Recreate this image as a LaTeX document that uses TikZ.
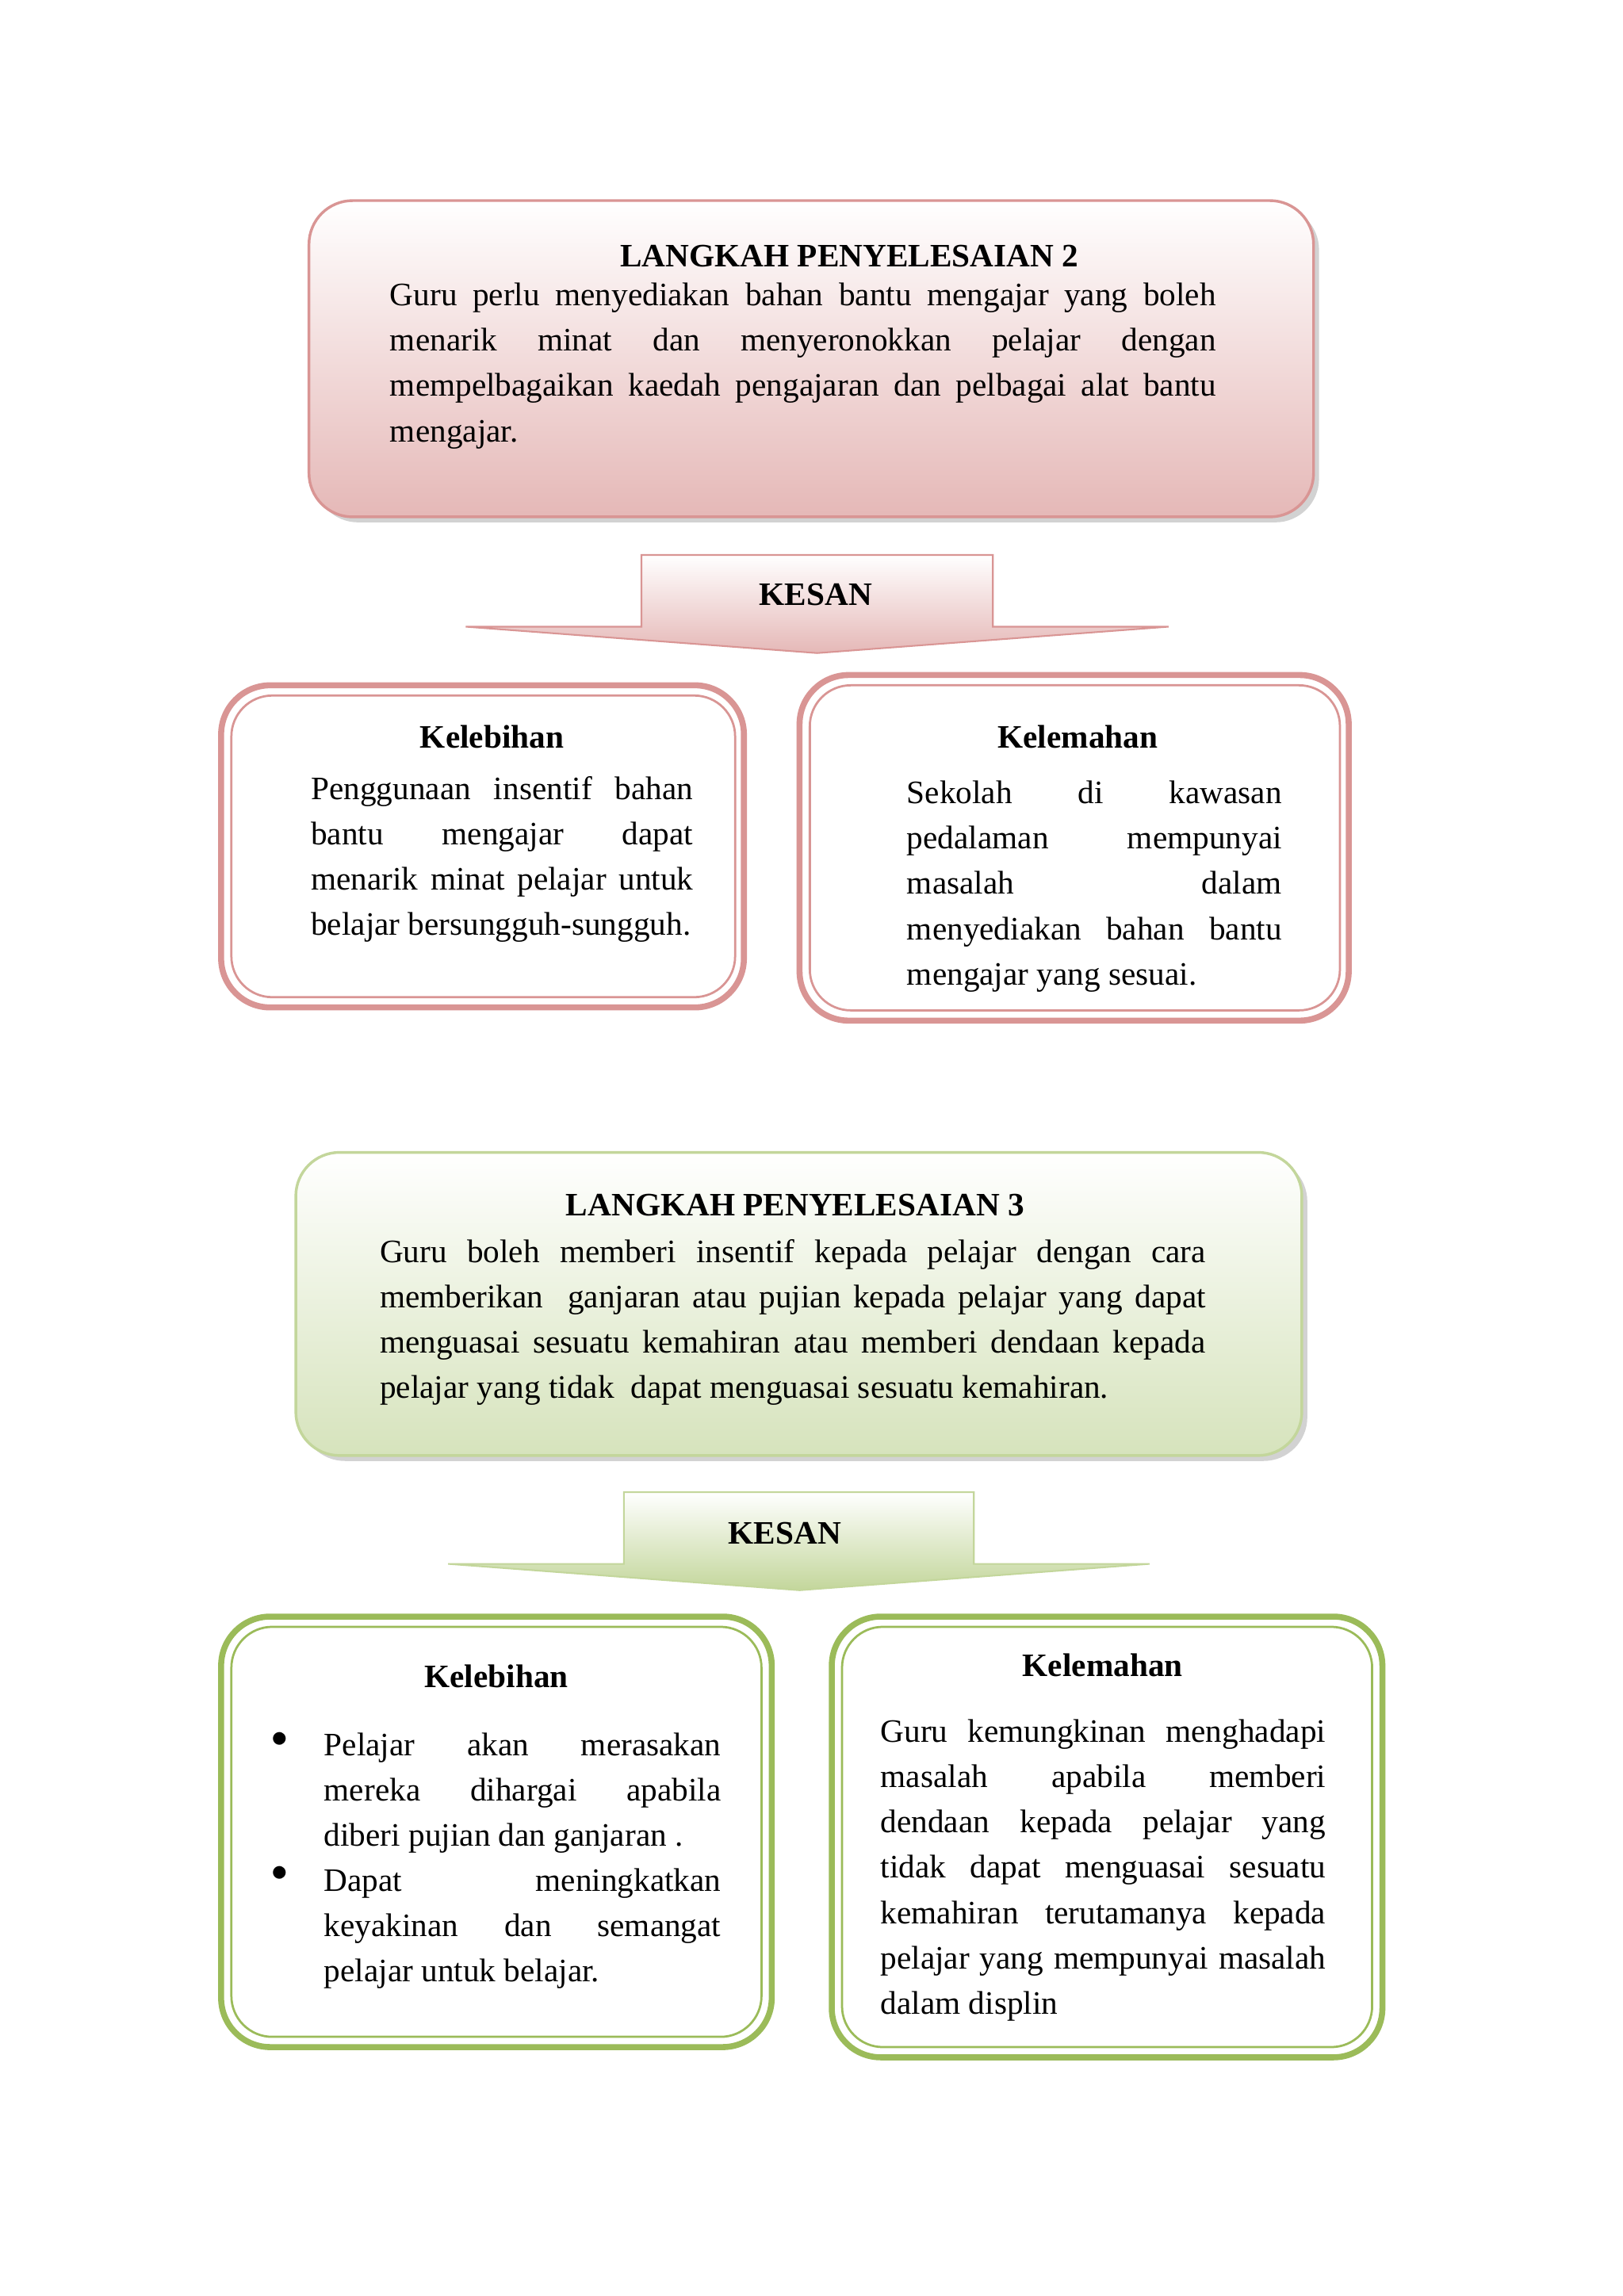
\documentclass[tikz,border=0pt]{standalone}
\usepackage{fontspec}
\setmainfont{Liberation Serif}
\usetikzlibrary{shadows}
\definecolor{pk}{HTML}{D99594}
\definecolor{pkf}{HTML}{E5B8B7}
\definecolor{gn}{HTML}{9BBB59}
\definecolor{gnl}{HTML}{C3D69B}
\definecolor{gnf}{HTML}{D6E3BC}
\begin{document}
\begin{tikzpicture}[x=0.537pt,y=-0.537pt,
  txt/.style={anchor=north west,inner sep=0pt,align=justify,font=\fontsize{12}{16.6}\selectfont},
  ttl/.style={inner sep=0pt,font=\fontsize{12}{14}\selectfont\bfseries},
  mainpk/.style={rounded corners=16pt,draw=pk,line width=1pt,top color=white,bottom color=pkf,drop shadow={opacity=0.35,shadow xshift=2pt,shadow yshift=-2pt}},
  maingn/.style={rounded corners=16pt,draw=gnl,line width=1pt,top color=white,bottom color=gnf,drop shadow={opacity=0.35,shadow xshift=2pt,shadow yshift=-2pt}},
  outb/.style={rounded corners=18pt,line width=2.2pt,fill=white},
  inb/.style={rounded corners=15pt,line width=0.8pt}]
\useasboundingbox (0,0) rectangle (1108,1568);
\fill[white] (0,0) rectangle (1108,1568);
% Box 1
\path[mainpk] (211,137) rectangle (897,353);
\node[ttl] (t1) at (580,175) {LANGKAH PENYELESAIAN 2};
\node[txt,text width=564*0.537pt] (b1) at (266,193) {Guru perlu menyediakan bahan bantu mengajar yang boleh\linebreak menarik minat dan menyeronokkan pelajar dengan\linebreak mempelbagaikan kaedah pengajaran dan pelbagai alat bantu\linebreak mengajar.};
% Arrow 1
\path[draw=pk,line width=0.6pt,top color=white,bottom color=pkf] (438,379) -- (678,379) -- (678,428) -- (798,428) -- (558,446) -- (318,428) -- (438,428) -- cycle;
\node[ttl] (k1) at (557,406) {KESAN};
% Kelebihan 1
\draw[outb,draw=pk] (151,468) rectangle (508,688);
\draw[inb,draw=pk] (158,475) rectangle (502,681);
\node[ttl] (kl1) at (336,503) {Kelebihan};
\node[txt,text width=261*0.537pt] (kt1) at (212,530) {Penggunaan insentif bahan\linebreak bantu mengajar dapat\linebreak menarik minat pelajar untuk\linebreak belajar bersungguh-sungguh.};
% Kelemahan 1
\draw[outb,draw=pk] (546,461) rectangle (921,697);
\draw[inb,draw=pk] (553,468) rectangle (915,690);
\node[ttl] (km1) at (736,503) {Kelemahan};
\node[txt,text width=256*0.537pt] (kmt1) at (619,533) {Sekolah di kawasan\linebreak pedalaman mempunyai\linebreak masalah dalam\linebreak menyediakan bahan bantu\linebreak mengajar yang sesuai.};
% Box 3
\path[maingn] (202,787) rectangle (889,994);
\node[ttl] (t3) at (543,823) {LANGKAH PENYELESAIAN 3};
\node[txt,text width=564*0.537pt] (b3) at (259,846) {Guru boleh memberi insentif kepada pelajar dengan cara\linebreak memberikan \ ganjaran atau pujian kepada pelajar yang dapat\linebreak menguasai sesuatu kemahiran atau memberi dendaan kepada\linebreak pelajar yang tidak \ dapat menguasai sesuatu kemahiran.};
% Arrow 2
\path[draw=gnl,line width=0.6pt,top color=white,bottom color=gnl] (426,1019) -- (665,1019) -- (665,1068) -- (785,1068) -- (546,1086) -- (306,1068) -- (426,1068) -- cycle;
\node[ttl] (k2) at (536,1047) {KESAN};
% Kelebihan 2
\draw[outb,draw=gn] (151,1104) rectangle (527,1398);
\draw[inb,draw=gn] (158,1111) rectangle (520,1391);
\node[ttl] (kl2) at (339,1145) {Kelebihan};
\node[txt,anchor=north] (bu1) at (191,1183) {$\bullet$};
\node[txt,anchor=north] (bu2) at (191,1274) {$\bullet$};
\node[txt,text width=271*0.537pt] (kt2) at (221,1183) {Pelajar akan merasakan\linebreak mereka dihargai apabila\linebreak diberi pujian dan ganjaran .\par Dapat meningkatkan\linebreak keyakinan dan semangat\linebreak pelajar untuk belajar.};
% Kelemahan 2
\draw[outb,draw=gn] (568,1104) rectangle (944,1405);
\draw[inb,draw=gn] (575,1111) rectangle (937,1398);
\node[ttl] (km2) at (753,1137) {Kelemahan};
\node[txt,text width=304*0.537pt] (kmt2) at (601,1174) {Guru kemungkinan menghadapi\linebreak masalah apabila memberi\linebreak dendaan kepada pelajar yang\linebreak tidak dapat menguasai sesuatu\linebreak kemahiran terutamanya kepada\linebreak pelajar yang mempunyai masalah\linebreak dalam displin};
\end{tikzpicture}
\end{document}
